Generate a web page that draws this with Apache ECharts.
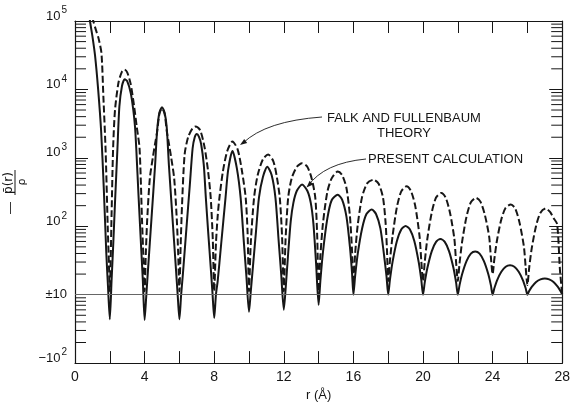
<!DOCTYPE html>
<html>
<head>
<meta charset="utf-8">
<script src="https://cdn.jsdelivr.net/npm/echarts/dist/echarts.min.js"></script>
<style>
html,body{margin:0;padding:0;background:#fff;}
#chart{width:573px;height:407px;}
</style>
</head>
<body>
<div id="chart"></div>
<script>
// ---- data: [r (Å), -ρ̄(r)/ρ] ----
const presentCalc = [
 [0.8,141000],[0.86,100000],[1.0,60300],[1.15,31600],[1.33,10000],[1.5,2510],[1.65,380],[1.8,40],[1.9,12.6],[2.0,-22.9],
 [2.1,15.8],[2.19,49],[2.3,224],[2.44,1380],[2.55,5620],[2.7,11200],[2.86,14100],[3.0,13200],[3.2,8910],[3.35,5010],[3.45,2820],[3.52,1380],[3.65,282],[3.8,50],[3.9,15.8],[4.0,-23.4],
 [4.1,10],[4.2,24],[4.4,135],[4.6,759],[4.72,2510],[4.85,4570],[5.0,5500],[5.15,4570],[5.27,2820],[5.4,759],[5.6,135],[5.8,24],[5.9,10],[6.0,-22.9],
 [6.1,10],[6.2,20],[6.4,91],[6.6,407],[6.76,1380],[6.88,2000],[7.0,2240],[7.12,2040],[7.25,1580],[7.4,794],[7.52,260],[7.65,85],[7.8,25],[7.9,10.7],[8.0,-21.9],
 [8.1,10],[8.2,15.8],[8.4,55],[8.65,260],[8.8,661],[9.05,1260],[9.3,708],[9.52,260],[9.7,60],[9.85,18.6],[10.0,-17.8],
 [10.1,11],[10.25,30.2],[10.4,83],[10.57,260],[10.8,525],[11.05,741],[11.3,562],[11.52,260],[11.7,63],[11.85,20],[12.0,-16.6],
 [12.1,11.7],[12.25,40],[12.4,120],[12.55,220],[12.75,330],[13.05,407],[13.35,330],[13.55,220],[13.7,110],[13.85,30],[14.0,-14.1],
 [14.1,15.8],[14.25,41.7],[14.5,129],[14.75,240],[15.1,288],[15.35,245],[15.6,138],[15.8,50],[15.92,21],[16.0,10],
 [16.1,18.8],[16.25,39.8],[16.5,93],[16.75,151],[17.05,176],[17.3,151],[17.55,93],[17.75,39.8],[17.9,18.8],[18.0,10],
 [18.1,16.6],[18.25,30.2],[18.5,61],[18.75,90],[19.0,101],[19.25,90],[19.5,61],[19.75,30.2],[19.9,16.6],[20.0,10],
 [20.1,15.1],[20.25,24.5],[20.5,43],[20.75,59],[21.0,65],[21.25,59],[21.5,43],[21.75,24.5],[21.9,15.1],[22.0,10],
 [22.1,13.8],[22.25,20.1],[22.5,31],[22.75,39.8],[23.0,42.8],[23.25,39.8],[23.5,31],[23.75,20.1],[23.9,13.8],[24.0,10],
 [24.1,12.4],[24.25,16.1],[24.5,21.6],[24.75,25.6],[25.0,26.9],[25.25,25.6],[25.5,21.6],[25.75,16.1],[25.9,12.4],[26.0,10],
 [26.1,11.3],[26.25,13],[26.5,15.3],[26.75,16.7],[27.0,17.2],[27.25,16.7],[27.5,15.3],[27.75,13],[27.9,11.3],[28.0,10]
];
const falkFullenbaum = [
 [1.0,115000],[1.05,100000],[1.2,74100],[1.35,56200],[1.52,33900],[1.63,7940],[1.76,1260],[1.88,100],[1.95,28.2],[2.0,11.2],
 [2.1,141],[2.19,1380],[2.3,5010],[2.5,12600],[2.7,18200],[2.85,19500],[3.0,17800],[3.2,12000],[3.4,5620],[3.55,2820],[3.71,1380],[3.85,126],[3.93,35.5],[4.0,11.2],
 [4.07,40],[4.15,126],[4.3,501],[4.47,1000],[4.6,1600],[4.72,2400],[4.85,4400],[5.0,5300],[5.15,4400],[5.28,2400],[5.4,1600],[5.53,1000],[5.7,501],[5.85,126],[5.93,40],[6.0,11.2],
 [6.07,50],[6.15,200],[6.3,1120],[6.5,2000],[6.75,2690],[6.95,2880],[7.2,2510],[7.45,1410],[7.65,631],[7.8,260],[7.92,63],[8.0,11.2],
 [8.1,56],[8.2,141],[8.3,260],[8.5,631],[8.75,1260],[9.05,1740],[9.35,1320],[9.6,631],[9.81,260],[9.92,79],[10.0,11.2],
 [10.1,56],[10.29,260],[10.5,562],[10.8,955],[11.1,1120],[11.4,891],[11.6,525],[11.77,260],[11.9,71],[12.0,11.2],
 [12.1,63],[12.25,260],[12.45,501],[12.75,741],[13.05,832],[13.35,741],[13.6,501],[13.81,260],[13.92,71],[14.0,11.2],
 [14.1,36.3],[14.25,110],[14.5,316],[14.75,501],[15.1,631],[15.35,562],[15.6,363],[15.8,141],[15.92,44.7],[16.0,14.1],
 [16.1,39.8],[16.25,105],[16.5,269],[16.8,427],[17.15,479],[17.45,417],[17.7,263],[17.85,112],[17.93,44.7],[18.0,15.8],
 [18.1,31.6],[18.25,72],[18.5,191],[18.75,324],[19.05,384],[19.3,331],[19.55,200],[19.8,72],[19.9,31.6],[20.0,15.8],
 [20.1,30.2],[20.25,66],[20.5,158],[20.75,263],[21.05,307],[21.3,263],[21.55,158],[21.8,66],[21.9,30.2],[22.0,15.8],
 [22.1,28.8],[22.25,60],[22.5,138],[22.75,224],[23.05,260],[23.3,229],[23.55,148],[23.8,71],[23.9,35.5],[24.0,20],
 [24.1,33.1],[24.25,62],[24.5,126],[24.75,186],[25.05,208],[25.3,182],[25.55,112],[25.8,50],[25.9,25.1],[26.0,13.8],
 [26.1,24.5],[26.25,47.9],[26.5,102],[26.75,158],[27.05,182],[27.3,162],[27.5,132],[27.71,107],[27.87,22.9],[28.0,10]
];
const yTickValues = [-100, 10, 100, 1000, 10000, 100000];
const yTickLabels = ['{b|\u221210}{s|2}', '{p|\u00b110}', '{b|10}{s|2}', '{b|10}{s|3}', '{b|10}{s|4}', '{b|10}{s|5}'];
const xTickLabels = [0, 4, 8, 12, 16, 20, 24, 28];
const annotations = ['FALK AND FULLENBAUM', 'THEORY', 'PRESENT CALCULATION'];

// ---- scale: ±10 collapsed to one line, log decades above and below ----
function tr(v) {
  if (v >= 10) return Math.log10(v) - 1;
  if (v <= -10) return 1 - Math.log10(-v);
  return 0;
}
const yPos = yTickValues.map(tr);
function labelFor(t) {
  for (let i = 0; i < yPos.length; i++) if (Math.abs(yPos[i] - t) < 1e-6) return yTickLabels[i];
  return '';
}
// minor log ticks (2..9 in every decade strip)
const minorTicks = [];
for (let k = -1; k <= 3; k++) for (let m = 2; m <= 9; m++) minorTicks.push(k + Math.log10(m));

const solidData = presentCalc.map(d => [d[0], tr(d[1])]);
const dashData = falkFullenbaum.map(d => [d[0], tr(d[1])]);

const chart = echarts.init(document.getElementById('chart'), null, {renderer: 'canvas'});
const INK = '#161616';
const FONT = 'Liberation Sans, Arial, sans-serif';

const xBase = {
  type: 'value', min: 0, max: 28, interval: 2,
  axisLine: {show: true, onZero: false, lineStyle: {color: INK, width: 1.2}},
  axisTick: {show: true, inside: true, length: 12, lineStyle: {color: INK, width: 1}},
  splitLine: {show: false}
};
const yBase = {
  type: 'value', min: -1, max: 4, interval: 1,
  axisLine: {show: true, onZero: false, lineStyle: {color: INK, width: 1.2}},
  axisTick: {show: true, inside: true, length: 13, lineStyle: {color: INK, width: 1}},
  splitLine: {show: false}
};

const option = {
  backgroundColor: '#fff',
  animation: false,
  grid: {left: 75, right: 9, top: 21, bottom: 40, containLabel: false},
  xAxis: [
    Object.assign({}, xBase, {
      position: 'bottom',
      name: 'r (\u00c5)', nameLocation: 'middle', nameGap: 24,
      nameTextStyle: {color: INK, fontSize: 13, fontFamily: FONT},
      axisLabel: {show: true, margin: 7, color: INK, fontSize: 14, fontFamily: FONT,
        formatter: v => (xTickLabels.indexOf(v) >= 0 ? String(v) : '')}
    }),
    Object.assign({}, xBase, {position: 'top', axisLabel: {show: false}})
  ],
  yAxis: [
    Object.assign({}, yBase, {
      position: 'left',
      axisLabel: {show: true, margin: 8, color: INK, fontFamily: FONT,
        formatter: v => labelFor(v),
        rich: {
          b: {fontSize: 13, fontFamily: FONT, color: INK, lineHeight: 13, verticalAlign: 'bottom', padding: [0, 0, 5, 0]},
          s: {fontSize: 10, fontFamily: FONT, color: INK, lineHeight: 13, verticalAlign: 'bottom', padding: [0, 0, 12, 1]},
          p: {fontSize: 13, fontFamily: FONT, color: INK, lineHeight: 13}
        }}
    }),
    Object.assign({}, yBase, {position: 'right', axisLabel: {show: false}})
  ],
  graphic: [
    // y-axis title: − ρ̄(r) / ρ  (rotated)
    {
      type: 'group', x: 15, y: 214, rotation: Math.PI / 2,
      children: [
        {type: 'text', x: 0, y: -4, style: {text: '\u2014', fill: INK, fontSize: 12, fontFamily: FONT, textVerticalAlign: 'middle'}},
        {type: 'text', x: 31, y: -6, style: {text: 'p\u0304(r)', fill: INK, fontSize: 12, fontFamily: 'DejaVu Sans', textAlign: 'center', textVerticalAlign: 'middle'}},
        {type: 'line', shape: {x1: 19, y1: 0, x2: 44, y2: 0}, style: {stroke: INK, lineWidth: 1}},
        {type: 'text', x: 32, y: 7, style: {text: '\u03c1', fill: INK, fontSize: 11, fontFamily: 'DejaVu Sans', textAlign: 'center', textVerticalAlign: 'middle'}}
      ]
    },
    // annotations
    {type: 'text', x: 327, y: 118, style: {text: annotations[0], fill: INK, fontSize: 13, fontFamily: FONT, textVerticalAlign: 'middle'}},
    {type: 'text', x: 404, y: 133, style: {text: annotations[1], fill: INK, fontSize: 13, fontFamily: FONT, textAlign: 'center', textVerticalAlign: 'middle'}},
    {type: 'text', x: 368, y: 159, style: {text: annotations[2], fill: INK, fontSize: 13, fontFamily: FONT, textVerticalAlign: 'middle'}},
    // arrows
    {type: 'bezierCurve', shape: {x1: 322, y1: 117, x2: 243, y2: 143, cpx1: 266, cpy1: 121}, style: {stroke: INK, lineWidth: 0.9, fill: null}},
    {type: 'polygon', shape: {points: [[240, 145], [247.2, 142.9], [244.2, 138.9]]}, style: {fill: INK}},
    {type: 'bezierCurve', shape: {x1: 366, y1: 159, x2: 308, y2: 186, cpx1: 324, cpy1: 163}, style: {stroke: INK, lineWidth: 0.9, fill: null}},
    {type: 'polygon', shape: {points: [[306.5, 187.5], [313.2, 184.4], [309.6, 180.8]]}, style: {fill: INK}}
  ],
  series: [
    {
      type: 'custom', xAxisIndex: 0, yAxisIndex: 0, silent: true, z: 1,
      data: minorTicks.map(t => [0, t]),
      renderItem: function (params, api) {
        const p = api.coord([0, api.value(1)]);
        const q = api.coord([28, api.value(1)]);
        return {type: 'group', children: [
          {type: 'line', shape: {x1: p[0], y1: p[1], x2: p[0] + 11, y2: p[1]}, style: {stroke: INK, lineWidth: 1}},
          {type: 'line', shape: {x1: q[0] - 11, y1: q[1], x2: q[0], y2: q[1]}, style: {stroke: INK, lineWidth: 1}}
        ]};
      }
    },
    {
      name: 'Falk and Fullenbaum theory', type: 'line', xAxisIndex: 0, yAxisIndex: 0,
      data: dashData, showSymbol: false, smooth: 0.25, clip: true, z: 3,
      lineStyle: {color: INK, width: 2, type: [7, 3]},
      markLine: {silent: true, symbol: 'none', label: {show: false},
        lineStyle: {color: '#666', width: 1, type: 'solid'},
        data: [{yAxis: 0}]}
    },
    {
      name: 'Present calculation', type: 'line', xAxisIndex: 0, yAxisIndex: 0,
      data: solidData, showSymbol: false, smooth: 0.25, clip: true, z: 4,
      lineStyle: {color: INK, width: 2, type: 'solid'}
    }
  ]
};
chart.setOption(option);
</script>
</body>
</html>
